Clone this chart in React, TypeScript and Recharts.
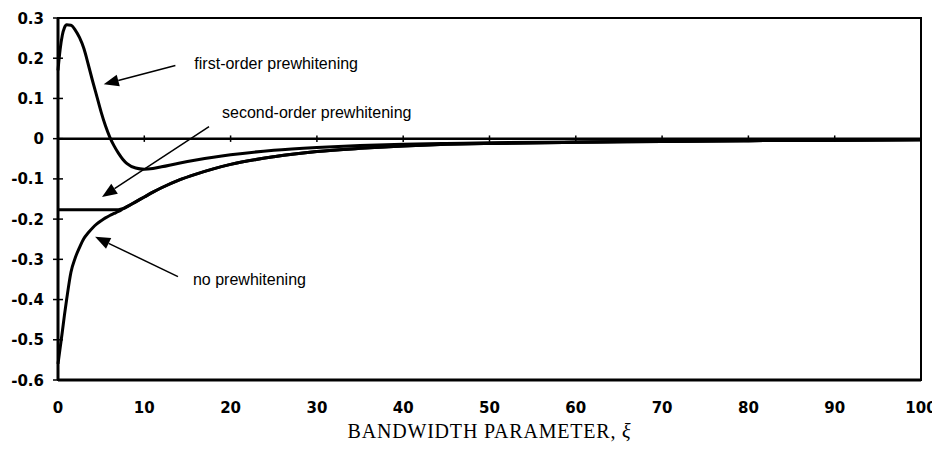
import { LineChart, Line, XAxis, YAxis, ReferenceLine, ReferenceArea } from "recharts";

// bandwidth parameter values (x)
const xi = [0, 0.25, 0.5, 0.75, 1, 1.5, 2, 2.5, 3, 3.5, 4, 4.5, 5, 5.5, 6, 6.5, 7, 7.5, 8, 9, 10, 11, 12, 14, 16, 18, 20, 25, 30, 35, 40, 45, 50, 60, 70, 80, 90, 100];

const firstOrder = [0.17, 0.222, 0.257, 0.276, 0.283, 0.282, 0.27, 0.251, 0.224, 0.185, 0.144, 0.105, 0.066, 0.032, 0.004, -0.018, -0.036, -0.051, -0.062, -0.073, -0.076, -0.074, -0.07, -0.061, -0.053, -0.046, -0.04, -0.029, -0.022, -0.017, -0.014, -0.012, -0.01, -0.008, -0.006, -0.005, -0.004, -0.003];

const secondOrder = [-0.177, -0.177, -0.177, -0.177, -0.177, -0.177, -0.177, -0.177, -0.177, -0.177, -0.177, -0.177, -0.177, -0.177, -0.177, -0.177, -0.1765, -0.174, -0.169, -0.157, -0.145, -0.133, -0.122, -0.103, -0.088, -0.075, -0.064, -0.045, -0.032, -0.024, -0.018, -0.014, -0.012, -0.009, -0.007, -0.005, -0.004, -0.003];

const noPrewhitening = [-0.56, -0.52, -0.48, -0.438, -0.4, -0.332, -0.296, -0.27, -0.248, -0.234, -0.222, -0.212, -0.204, -0.197, -0.191, -0.186, -0.181, -0.175, -0.169, -0.157, -0.145, -0.133, -0.122, -0.103, -0.088, -0.075, -0.064, -0.045, -0.032, -0.024, -0.018, -0.014, -0.012, -0.009, -0.007, -0.005, -0.004, -0.003];

const xTicks = [0, 10, 20, 30, 40, 50, 60, 70, 80, 90, 100];
const yTicks = [0.3, 0.2, 0.1, 0, -0.1, -0.2, -0.3, -0.4, -0.5, -0.6];

const arrows = [
  { text: "first-order prewhitening", from: { x: 13.6, y: 0.182 }, to: { x: 5.3, y: 0.135 }, dx: 19, dy: 4 },
  { text: "second-order prewhitening", from: { x: 17.5, y: 0.03 }, to: { x: 5.1, y: -0.145 }, dx: 13, dy: -9 },
  { text: "no prewhitening", from: { x: 13.9, y: -0.343 }, to: { x: 4.3, y: -0.244 }, dx: 15, dy: 8 },
];

const data = xi.map((x, i) => ({
  xi: x,
  first: firstOrder[i],
  second: secondOrder[i],
  none: noPrewhitening[i],
}));

const tickFont = { fontFamily: "'DejaVu Sans', sans-serif", fontWeight: "bold" as const, fontSize: 15 };

const fmtY = (v: number) => String(Number(v.toFixed(1)));

const YTick = (props: any) => {
  const { x, y, payload } = props;
  return (
    <g>
      <line x1={x - 5} x2={x + 5} y1={y} y2={y} stroke="#000" strokeWidth={1.5} />
      <text x={x - 14} y={y + 5.5} textAnchor="end" fill="#000" {...tickFont}>
        {fmtY(payload.value)}
      </text>
    </g>
  );
};

const XTick = (props: any) => {
  const { x, y, payload } = props;
  return (
    <text x={x} y={y + 33} textAnchor="middle" fill="#000" {...tickFont}>
      {payload.value}
    </text>
  );
};

const arrowShape = (a: (typeof arrows)[number]) => (props: any) => {
  const { x1, y1, x2, y2 } = props;
  const ang = Math.atan2(y2 - y1, x2 - x1);
  const len = 15;
  const half = 6;
  const bx = x2 - len * Math.cos(ang);
  const by = y2 - len * Math.sin(ang);
  const px = -Math.sin(ang) * half;
  const py = Math.cos(ang) * half;
  return (
    <g>
      <line x1={x1} y1={y1} x2={bx} y2={by} stroke="#000" strokeWidth={1.5} />
      <polygon points={`${x2},${y2} ${bx + px},${by + py} ${bx - px},${by - py}`} fill="#000" />
      <text x={x1 + a.dx} y={y1 + a.dy} fill="#000" fontFamily="'Liberation Sans', Arial, sans-serif" fontSize={16}>
        {a.text}
      </text>
    </g>
  );
};

const AxisTitle = (props: any) => {
  const vb = props.viewBox ?? { x: 50, y: 372, width: 863, height: 60 };
  return (
    <text
      x={vb.x + vb.width / 2}
      y={vb.y + 58}
      textAnchor="middle"
      fill="#000"
      fontFamily="'Liberation Serif', 'Times New Roman', serif"
      fontSize={20}
      letterSpacing={0.8}
    >
      BANDWIDTH PARAMETER, <tspan fontStyle="italic">ξ</tspan>
    </text>
  );
};

export default function App() {
  return (
    <LineChart width={932} height={459} data={data} margin={{ top: 10, right: 19, left: 0, bottom: 27 }}>
      <ReferenceArea x1={0} x2={100} y1={-0.6} y2={0.3} fill="none" stroke="#000" strokeWidth={2} />
      <XAxis
        type="number"
        dataKey="xi"
        domain={[0, 100]}
        ticks={xTicks}
        interval={0}
        height={60}
        tickSize={0}
        tickMargin={0}
        tickLine={false}
        axisLine={{ stroke: "#000", strokeWidth: 3 }}
        tick={<XTick />}
        label={AxisTitle}
      />
      <YAxis
        type="number"
        domain={[-0.6, 0.3]}
        ticks={yTicks}
        interval={0}
        width={50}
        tickSize={0}
        tickMargin={0}
        tickLine={false}
        axisLine={{ stroke: "#000", strokeWidth: 3 }}
        tick={<YTick />}
      />
      <ReferenceLine y={0} stroke="#000" strokeWidth={2.5} />
      {xTicks.slice(1, -1).map((t) => (
        <ReferenceLine
          key={t}
          segment={[{ x: t, y: -0.008 }, { x: t, y: 0.008 }]}
          stroke="#000"
          strokeWidth={1.5}
        />
      ))}
      {arrows.map((a) => (
        <ReferenceLine key={a.text} segment={[a.from, a.to]} shape={arrowShape(a)} />
      ))}
      <Line type="monotone" dataKey="none" stroke="#000" strokeWidth={3} dot={false} isAnimationActive={false} />
      <Line type="monotone" dataKey="second" stroke="#000" strokeWidth={3} dot={false} isAnimationActive={false} />
      <Line type="monotone" dataKey="first" stroke="#000" strokeWidth={3} dot={false} isAnimationActive={false} />
    </LineChart>
  );
}
